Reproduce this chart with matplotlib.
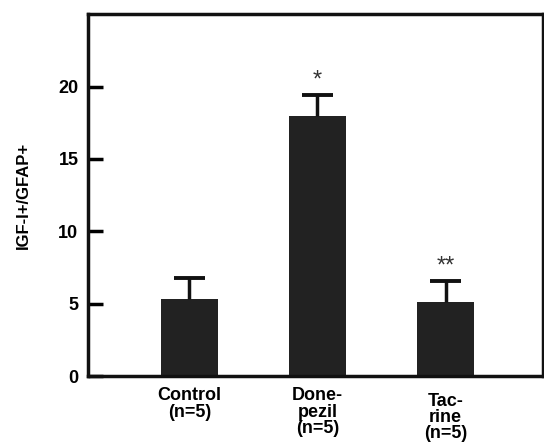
import matplotlib
matplotlib.use("Agg")
import matplotlib.pyplot as plt

plt.rcParams['font.family'] = ['Liberation Sans', 'DejaVu Sans']
plt.rcParams['font.weight'] = 'bold'

# data
groups = ["Control\n(n=5)", "Done-\npezil\n(n=5)", "Tac-\nrine\n(n=5)"]
means = [5.3, 18.0, 5.15]
sem_up = [1.5, 1.45, 1.45]
marks = ["", "*", "**"]
yticks = [0, 5, 10, 15, 20]

fig = plt.figure(figsize=(5.44, 4.43), dpi=100)
ax = fig.add_axes([0.162, 0.151, 0.836, 0.817])

x = list(range(len(groups)))
ax.bar(x, means, width=0.45, color='#222222', zorder=2)

# upper error bars only
tops = [m + e for m, e in zip(means, sem_up)]
ax.vlines(x, means, tops, color='#111111', linewidth=2.5, zorder=3)
ax.hlines(tops, [xi - 0.12 for xi in x], [xi + 0.12 for xi in x],
          color='#111111', linewidth=2.8, zorder=3)

for xi, t, s in zip(x, tops, marks):
    if s:
        ax.text(xi, t + 1.0, s, ha='center', va='center', fontsize=17,
                fontweight='normal', color='#333333')

ax.set_xlim(-0.79, 2.76)
ax.set_ylim(0, 25)
ax.set_yticks(yticks)
ax.set_yticklabels([str(t) for t in yticks], fontsize=13, fontweight='bold')
ax.set_xticks([])
ax.tick_params(axis='y', direction='in', length=11, width=2.5, pad=7)
ax.set_ylabel("IGF-I+/GFAP+", fontsize=12, fontweight='bold', labelpad=20)

# category labels, the Tacrine one sits a bit lower in the original
drops = [-8, -8, -12]
for xi, g, d in zip(x, groups, drops):
    ax.annotate(g, (xi, 0), xycoords=('data', 'axes fraction'),
                xytext=(0, d), textcoords='offset points',
                ha='center', va='top', fontsize=13, fontweight='bold',
                linespacing=0.95)

for sp in ax.spines.values():
    sp.set_linewidth(2.5)
    sp.set_color('#111111')

fig.savefig("out.png", dpi=100)
